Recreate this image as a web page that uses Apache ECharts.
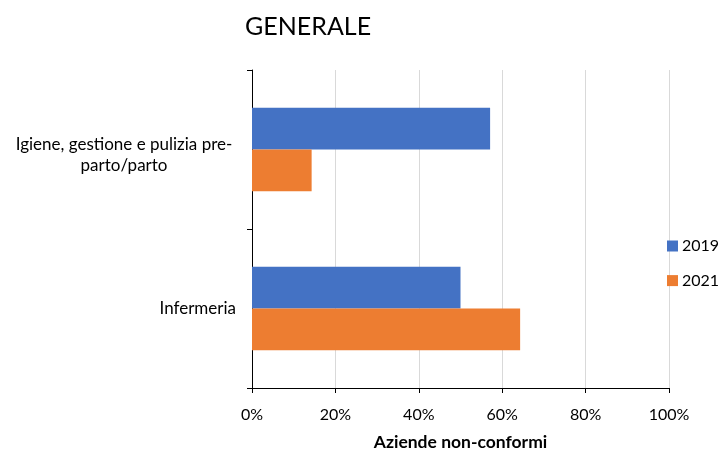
<!DOCTYPE html>
<html>
<head>
<meta charset="utf-8">
<script src="https://cdn.jsdelivr.net/npm/echarts@6/dist/echarts.min.js"></script>
<style>
  html, body { margin: 0; padding: 0; background: #fff; }
  #chart { width: 721px; height: 452px; }
</style>
</head>
<body>
<div id="chart"></div>
<script>
// Categories, top to bottom
const categories = ['Igiene, gestione e pulizia pre-parto/parto', 'Infermeria'];
// Share of non-compliant farms (%)
const values2019 = [57.1, 50.0];
const values2021 = [14.3, 64.3];
const seriesNames = ['2019', '2021'];
const xTicks = ['0%', '20%', '40%', '60%', '80%', '100%'];

const FONT = 'Lato';
const chart = echarts.init(document.getElementById('chart'));

chart.setOption({
  animation: false,
  textStyle: { fontFamily: FONT },
  title: {
    text: 'GENERALE',
    left: 240,
    top: 9,
    textStyle: { fontFamily: FONT, fontSize: 25, fontWeight: 'normal', color: '#000' }
  },
  legend: {
    orient: 'vertical',
    left: 667,
    top: 237,
    padding: 0,
    itemWidth: 11,
    itemHeight: 11,
    itemGap: 16.6,
    icon: 'rect',
    textStyle: { fontFamily: FONT, fontSize: 16, color: '#000', lineHeight: 18, padding: [0, 0, 0, -1] },
    data: seriesNames
  },
  grid: { left: 252, right: 52, top: 70, bottom: 64, containLabel: false, outerBoundsMode: 'none' },
  xAxis: {
    type: 'value',
    min: 0,
    max: 100,
    interval: 20,
    name: 'Aziende non-conformi',
    nameLocation: 'middle',
    nameGap: 45,
    nameTextStyle: { fontFamily: FONT, fontSize: 17.5, fontWeight: 'bold', color: '#000' },
    axisLine: { show: true, lineStyle: { color: '#000', width: 1 } },
    axisTick: { show: true, length: 5, lineStyle: { color: '#000' } },
    axisLabel: {
      margin: 19,
      fontFamily: FONT, fontSize: 16, color: '#000',
      formatter: v => xTicks[Math.round(v / 20)]
    },
    splitLine: { show: true, lineStyle: { color: '#d9d9d9', width: 1 } }
  },
  yAxis: {
    type: 'category',
    inverse: true,
    data: categories,
    axisLine: { show: true, lineStyle: { color: '#000', width: 1 } },
    axisTick: { show: true, length: 5, lineStyle: { color: '#000' } },
    axisLabel: {
      margin: 16,
      fontFamily: FONT, fontSize: 17, color: '#000',
      formatter: function (v) {
        if (v.indexOf('pre-parto') >= 0) {
          return '{s| }\n{c|Igiene, gestione e pulizia pre-}\n{c|parto/parto}';
        }
        return '{u|' + v + '}';
      },
      rich: {
        s: { fontSize: 1, lineHeight: 12 },
        c: { width: 224, align: 'center', fontFamily: FONT, fontSize: 17, lineHeight: 21, color: '#000' },
        u: { fontFamily: FONT, fontSize: 17, color: '#000' }
      }
    },
    splitLine: { show: false }
  },
  series: [
    {
      name: seriesNames[0],
      type: 'bar',
      data: values2019,
      barGap: '0%',
      barCategoryGap: '47.5%',
      itemStyle: { color: '#4472C4' }
    },
    {
      name: seriesNames[1],
      type: 'bar',
      data: values2021,
      barGap: '0%',
      barCategoryGap: '47.5%',
      itemStyle: { color: '#ED7D31' }
    }
  ]
});
</script>
</body>
</html>
